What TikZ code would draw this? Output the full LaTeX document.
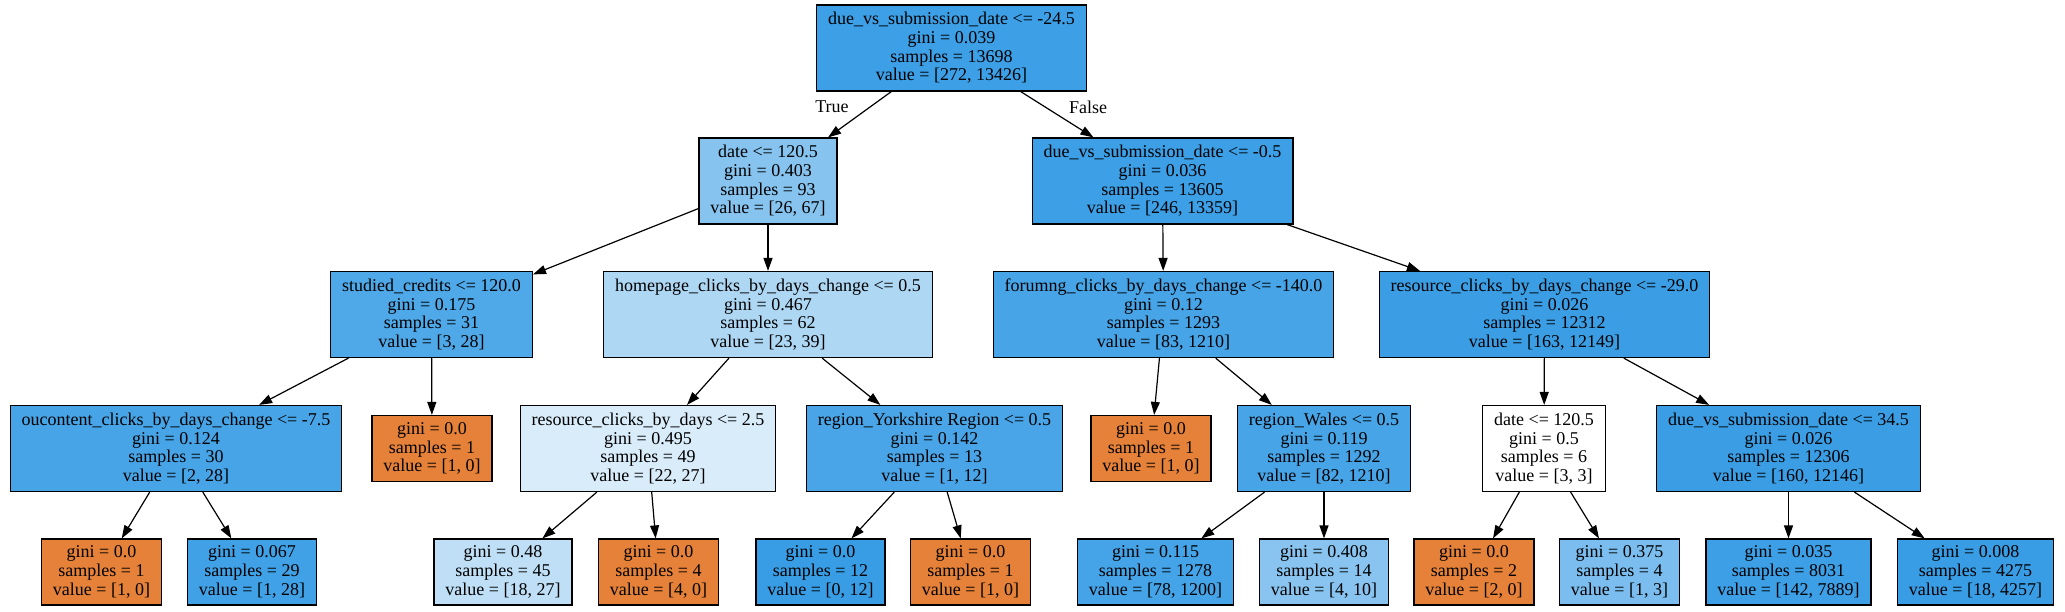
\documentclass[tikz,border=0pt]{standalone}
\usepackage{fontspec}
\setmainfont{Liberation Serif}
\usepackage{tikz}
\usetikzlibrary{arrows.meta}
\definecolor{treeblue}{RGB}{57,157,229}
\definecolor{treeorange}{RGB}{229,129,57}

\begin{document}
\begin{tikzpicture}[x=1pt, y=-1pt,
        split/.style={draw, line width=1.2pt, align=center, inner xsep=11.5pt, inner ysep=1pt, minimum height=86pt, font=\fontsize{18}{18.7}\selectfont},
        leaf/.style={split, minimum height=66pt},
        edge/.style={line width=1.2pt, -{Triangle[length=13pt, width=9pt]}}]
    \useasboundingbox (0,0) rectangle (2065,611);
    % 	level 0 and 1
        \node [split, fill=treeblue!98] (root) at (951.5, 48) {due\_vs\_submission\_date <= -24.5\\gini = 0.039\\samples = 13698\\value = [272, 13426]};
        \node [split, fill=treeblue!61] (date1) at (768, 181) {date <= 120.5\\gini = 0.403\\samples = 93\\value = [26, 67]};
        \node [split, fill=treeblue!98] (due1) at (1162.5, 181) {due\_vs\_submission\_date <= -0.5\\gini = 0.036\\samples = 13605\\value = [246, 13359]};
    % 	level 2
        \node [split, fill=treeblue!89] (studied) at (431.5, 314.5) {studied\_credits <= 120.0\\gini = 0.175\\samples = 31\\value = [3, 28]};
        \node [split, fill=treeblue!41] (homepage) at (768, 314.5) {homepage\_clicks\_by\_days\_change <= 0.5\\gini = 0.467\\samples = 62\\value = [23, 39]};
        \node [split, fill=treeblue!93] (forumng) at (1163.5, 314.5) {forumng\_clicks\_by\_days\_change <= -140.0\\gini = 0.12\\samples = 1293\\value = [83, 1210]};
        \node [split, fill=treeblue!99] (rescc) at (1544.5, 314.5) {resource\_clicks\_by\_days\_change <= -29.0\\gini = 0.026\\samples = 12312\\value = [163, 12149]};
    % 	level 3
        \node [split, fill=treeblue!93] (oucontent) at (176, 448.5) {oucontent\_clicks\_by\_days\_change <= -7.5\\gini = 0.124\\samples = 30\\value = [2, 28]};
        \node [leaf, fill=treeorange] (leafA) at (432, 448.5) {gini = 0.0\\samples = 1\\value = [1, 0]};
        \node [split, fill=treeblue!19] (resdays) at (648, 448.5) {resource\_clicks\_by\_days <= 2.5\\gini = 0.495\\samples = 49\\value = [22, 27]};
        \node [split, fill=treeblue!92] (york) at (934.5, 448.5) {region\_Yorkshire Region <= 0.5\\gini = 0.142\\samples = 13\\value = [1, 12]};
        \node [leaf, fill=treeorange] (leafB) at (1151, 448.5) {gini = 0.0\\samples = 1\\value = [1, 0]};
        \node [split, fill=treeblue!93] (wales) at (1324, 448.5) {region\_Wales <= 0.5\\gini = 0.119\\samples = 1292\\value = [82, 1210]};
        \node [split, fill=white] (date2) at (1544, 448.5) {date <= 120.5\\gini = 0.5\\samples = 6\\value = [3, 3]};
        \node [split, fill=treeblue!99] (due3) at (1788.5, 448.5) {due\_vs\_submission\_date <= 34.5\\gini = 0.026\\samples = 12306\\value = [160, 12146]};
    % 	level 4
        \node [leaf, fill=treeorange] (l1) at (101.5, 572) {gini = 0.0\\samples = 1\\value = [1, 0]};
        \node [leaf, fill=treeblue!96] (l2) at (252, 572) {gini = 0.067\\samples = 29\\value = [1, 28]};
        \node [leaf, fill=treeblue!33] (l3) at (503, 572) {gini = 0.48\\samples = 45\\value = [18, 27]};
        \node [leaf, fill=treeorange] (l4) at (658.5, 572) {gini = 0.0\\samples = 4\\value = [4, 0]};
        \node [leaf, fill=treeblue] (l5) at (820.5, 572) {gini = 0.0\\samples = 12\\value = [0, 12]};
        \node [leaf, fill=treeorange] (l6) at (970.5, 572) {gini = 0.0\\samples = 1\\value = [1, 0]};
        \node [leaf, fill=treeblue!94] (l7) at (1155.5, 572) {gini = 0.115\\samples = 1278\\value = [78, 1200]};
        \node [leaf, fill=treeblue!60] (l8) at (1324, 572) {gini = 0.408\\samples = 14\\value = [4, 10]};
        \node [leaf, fill=treeorange] (l9) at (1474, 572) {gini = 0.0\\samples = 2\\value = [2, 0]};
        \node [leaf, fill=treeblue!67] (l10) at (1619.5, 572) {gini = 0.375\\samples = 4\\value = [1, 3]};
        \node [leaf, fill=treeblue!98] (l11) at (1788.5, 572) {gini = 0.035\\samples = 8031\\value = [142, 7889]};
        \node [leaf, fill=treeblue!100] (l12) at (1975.5, 572) {gini = 0.008\\samples = 4275\\value = [18, 4257]};
    % 	edges
        \draw [edge] (root) -- (date1);
        \draw [edge] (root) -- (due1);
        \node [font=\fontsize{18}{18.7}\selectfont] (true) at (832, 107) {True};
        \node [font=\fontsize{18}{18.7}\selectfont] (false) at (1088, 107) {False};
        \draw [edge] (date1) -- (studied);
        \draw [edge] (date1) -- (homepage);
        \draw [edge] (due1) -- (forumng);
        \draw [edge] (due1) -- (rescc);
        \draw [edge] (studied) -- (oucontent);
        \draw [edge] (studied) -- (leafA);
        \draw [edge] (homepage) -- (resdays);
        \draw [edge] (homepage) -- (york);
        \draw [edge] (forumng) -- (leafB);
        \draw [edge] (forumng) -- (wales);
        \draw [edge] (rescc) -- (date2);
        \draw [edge] (rescc) -- (due3);
        \draw [edge] (oucontent) -- (l1);
        \draw [edge] (oucontent) -- (l2);
        \draw [edge] (resdays) -- (l3);
        \draw [edge] (resdays) -- (l4);
        \draw [edge] (york) -- (l5);
        \draw [edge] (york) -- (l6);
        \draw [edge] (wales) -- (l7);
        \draw [edge] (wales) -- (l8);
        \draw [edge] (date2) -- (l9);
        \draw [edge] (date2) -- (l10);
        \draw [edge] (due3) -- (l11);
        \draw [edge] (due3) -- (l12);
    \end{tikzpicture}
\end{document}
